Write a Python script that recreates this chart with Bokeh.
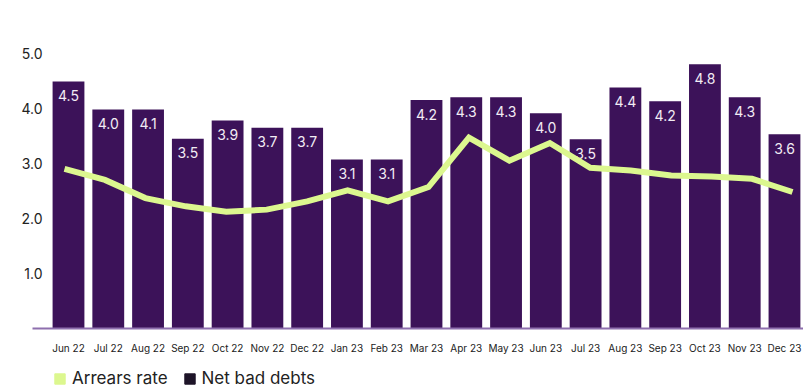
from bokeh.plotting import figure
from bokeh.layouts import column
from bokeh.models import (Range1d, FixedTicker, ColumnDataSource, Legend, LegendItem)
from bokeh.core.properties import value
from bokeh.embed import file_html
from bokeh.resources import INLINE

months = ["Jun 22", "Jul 22", "Aug 22", "Sep 22", "Oct 22", "Nov 22", "Dec 22",
          "Jan 23", "Feb 23", "Mar 23", "Apr 23", "May 23", "Jun 23", "Jul 23",
          "Aug 23", "Sep 23", "Oct 23", "Nov 23", "Dec 23"]
# Net bad debts: bar heights as drawn, and the labels printed on them
net_bad_debts = [4.49, 3.98, 3.98, 3.45, 3.78, 3.65, 3.65, 3.07, 3.07, 4.15,
                 4.20, 4.20, 3.91, 3.44, 4.38, 4.13, 4.80, 4.20, 3.53]
net_bad_debt_labels = ["4.5", "4.0", "4.1", "3.5", "3.9", "3.7", "3.7", "3.1", "3.1", "4.2",
                       "4.3", "4.3", "4.0", "3.5", "4.4", "4.2", "4.8", "4.3", "3.6"]
arrears_rate = [2.90, 2.70, 2.37, 2.22, 2.12, 2.16, 2.31, 2.51, 2.31, 2.57,
                3.47, 3.05, 3.37, 2.92, 2.87, 2.78, 2.76, 2.72, 2.48]
y_ticks = [1, 2, 3, 4, 5]
series_names = ["Arrears rate", "Net bad debts"]

FONT = "Inter"
BAR = "#3c1259"
LIME = "#dcf78f"

idx = list(range(len(months)))
src = ColumnDataSource(dict(x=idx, v=net_bad_debts, lab=net_bad_debt_labels, a=arrears_rate))

p = figure(width=803, height=360, output_backend="svg", toolbar_location=None,
           x_range=Range1d(-0.905, 18.478), y_range=Range1d(0, 5.96),
           min_border_left=32, min_border_right=0, min_border_top=0, min_border_bottom=32)
p.extra_x_ranges = {"line": Range1d(-0.791, 18.272)}
p.outline_line_color = None
p.grid.visible = False
p.background_fill_color = "white"
p.border_fill_color = "white"

p.vbar(x="x", top="v", width=0.80, source=src, color=BAR, line_color=None)
p.text(x="x", y="v", text="lab", source=src, y_offset=14, text_align="center",
       text_baseline="middle", text_color="#f2ecf4", text_font=value(FONT),
       text_font_size="14px")
p.line(x="x", y="a", source=src, x_range_name="line", line_color=LIME,
       line_width=6, line_join="miter")

xa = p.xaxis[0]
xa.ticker = FixedTicker(ticks=idx)
xa.major_label_overrides = {i: m for i, m in enumerate(months)}
xa.major_tick_line_color = None
xa.major_tick_out = 0
xa.major_tick_in = 0
xa.minor_tick_line_color = None
xa.axis_line_color = "#8e6fae"
xa.axis_line_width = 2
xa.major_label_text_font = FONT
xa.major_label_text_font_size = "10px"
xa.major_label_text_color = "#222222"
xa.major_label_standoff = 13

ya = p.yaxis[0]
ya.ticker = FixedTicker(ticks=y_ticks)
ya.major_label_overrides = {t: f"{t:.1f}" for t in y_ticks}
ya.axis_line_color = None
ya.major_tick_line_color = None
ya.major_tick_out = 0
ya.major_tick_in = 0
ya.minor_tick_line_color = None
ya.major_label_text_font = FONT
ya.major_label_text_font_size = "14px"
ya.major_label_text_color = "#222222"
ya.major_label_standoff = -10

# legend strip
lf = figure(width=803, height=27, output_backend="svg", toolbar_location=None,
            x_axis_type=None, y_axis_type=None, x_range=Range1d(0, 1), y_range=Range1d(0, 1),
            min_border=0)
lf.outline_line_color = None
lf.grid.visible = False
leg_src = ColumnDataSource(dict(x=[5], t=[5]))  # swatch-only renderers, outside view
r_a = lf.vbar(x="x", top="t", width=0.8, source=leg_src, color=LIME)
r_b = lf.vbar(x="x", top="t", width=0.8, source=leg_src, color="#1e1428")
legend = Legend(items=[LegendItem(label=series_names[0], renderers=[r_a]),
                       LegendItem(label=series_names[1], renderers=[r_b])],
                orientation="horizontal", location=(21, -1),
                glyph_width=13, glyph_height=13, label_standoff=6, spacing=15,
                padding=0, margin=0, border_line_color=None,
                background_fill_alpha=0,
                label_text_font=FONT, label_text_font_size="17px",
                label_text_color="#222222", label_height=13)
lf.add_layout(legend, "center")

layout = column(p, lf, spacing=0)
open("out.html", "w").write(file_html(layout, INLINE))
